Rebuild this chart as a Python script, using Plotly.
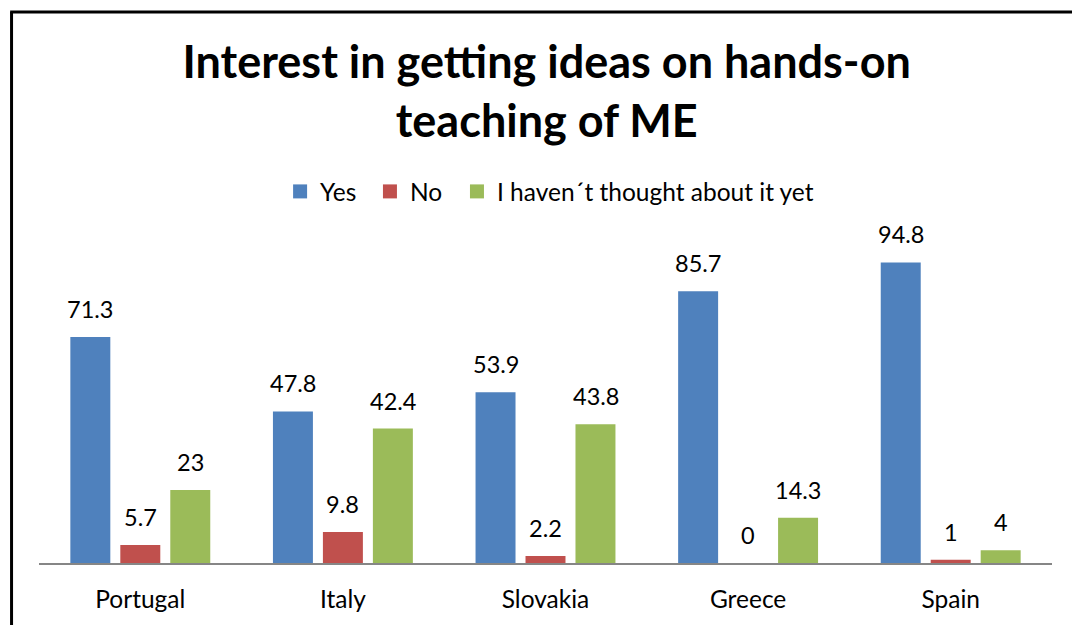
import plotly.graph_objects as go

countries = ["Portugal", "Italy", "Slovakia", "Greece", "Spain"]
yes = [71.3, 47.8, 53.9, 85.7, 94.8]
no = [5.7, 9.8, 2.2, 0, 1]
not_yet = [23, 42.4, 43.8, 14.3, 4]
series_names = ["Yes", "No", "I haven\u00b4t thought about it yet"]
colors = ["#4F81BD", "#C0504D", "#9BBB59"]

FONT = "Lato"
fig = go.Figure()
for name, vals, col in zip(series_names, [yes, no, not_yet], colors):
    fig.add_trace(go.Bar(x=countries, y=vals, name=name, marker_color=col,
                         marker_line_width=0, showlegend=False))
legend_ids = ["legend", "legend2", "legend3"]
for name, col, lg in zip(series_names, colors, legend_ids):
    fig.add_trace(go.Scatter(x=[None], y=[None], mode="markers", name=name, legend=lg,
                             marker=dict(symbol="square", size=14, color=col)))

annotations = []
for shift, vals in zip([-50, 0, 50], [yes, no, not_yet]):
    for c, v in zip(countries, vals):
        annotations.append(dict(x=c, y=v, xref="x", yref="y", text=f"{v:g}",
                                showarrow=False, xshift=shift, yshift=28,
                                font=dict(family=FONT, size=23.5, color="black")))

legend_style = dict(orientation="h", xanchor="left", y=1.172, yanchor="middle",
                    font=dict(family=FONT, size=24.5, color="black"),
                    itemwidth=30, bgcolor="rgba(0,0,0,0)")

fig.update_layout(
    width=1072, height=625,
    paper_bgcolor="white", plot_bgcolor="white",
    margin=dict(l=39, r=20, t=246, b=62),
    barmode="group", bargap=0.26, bargroupgap=0.2,
    title=dict(text="<b>Interest in getting ideas on hands-on<br>teaching of ME</b>",
               x=0.51, xanchor="center", y=0.875, yanchor="middle",
               font=dict(family=FONT, size=45, color="black")),
    legend=dict(x=0.238, **legend_style),
    legend2=dict(x=0.3267, **legend_style),
    legend3=dict(x=0.4126, **legend_style),
    xaxis=dict(showline=True, linecolor="#868686", linewidth=2, ticks="",
               ticklabelstandoff=14,
               tickfont=dict(family=FONT, size=24.5, color="black"), showgrid=False),
    yaxis=dict(range=[0, 100], visible=False, showgrid=False),
    annotations=annotations,
    shapes=[
        dict(type="line", xref="paper", yref="paper", x0=-0.0271, x1=-0.0271,
             y0=-0.3, y1=1.738, line=dict(color="black", width=3)),
        dict(type="line", xref="paper", yref="paper", x0=-0.0285, x1=1.2,
             y0=1.738, y1=1.738, line=dict(color="black", width=3)),
    ],
)
fig.write_html("out.html")
